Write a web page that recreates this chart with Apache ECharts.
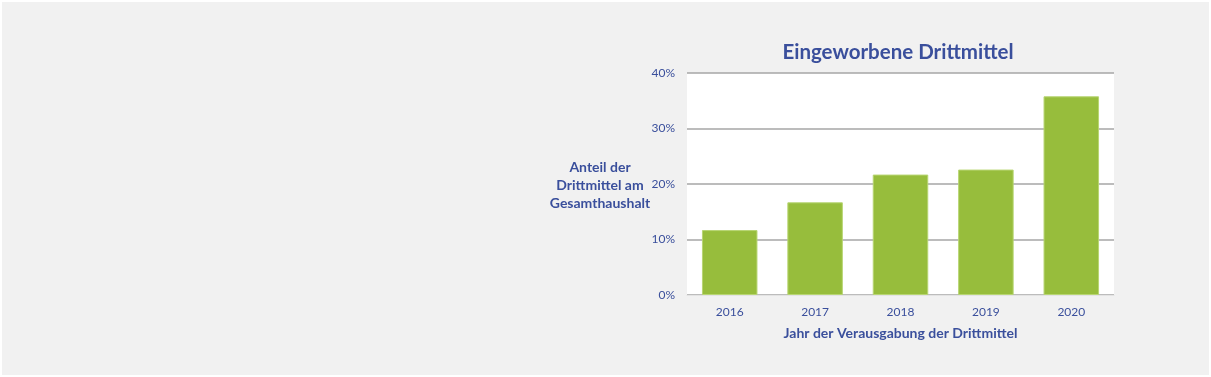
<!DOCTYPE html>
<html>
<head>
<meta charset="utf-8">
<script src="https://cdn.jsdelivr.net/npm/echarts@6/dist/echarts.min.js"></script>
<style>
  html, body { margin: 0; padding: 0; background: #fff; }
  #chart { width: 1211px; height: 377px; }
</style>
</head>
<body>
<div id="chart"></div>
<script>
// Drittmittel-Anteil pro Jahr
const years = ['2016', '2017', '2018', '2019', '2020']
const shares = [11.7, 16.7, 21.7, 22.6, 35.8]
const yTicks = [0, 10, 20, 30, 40]

const textBlue = '#3a4f9c'
const fontFam = 'Lato, "Open Sans", sans-serif'

const chart = echarts.init(document.getElementById('chart'))
chart.setOption({
  backgroundColor: '#f1f1f1',
  animation: false,
  title: {
    text: 'Eingeworbene Drittmittel',
    left: 893,
    textAlign: 'center',
    top: 37,
    textStyle: { color: textBlue, fontSize: 20.5, fontWeight: 'bold', fontFamily: fontFam }
  },
  graphic: [
    {
      type: 'rect',
      shape: { x: 0, y: 0, width: 1211, height: 377 },
      style: { fill: 'none', stroke: '#fff', lineWidth: 4 },
      silent: true
    },
    {
      type: 'text',
      x: 600,
      y: 158,
      style: {
        text: 'Anteil der\nDrittmittel am\nGesamthaushalt',
        fill: textBlue,
        font: 'bold 14px ' + fontFam,
        lineHeight: 18,
        align: 'center'
      }
    }
  ],
  grid: {
    left: 687,
    right: 97,
    top: 73,
    bottom: 82,
    show: true,
    backgroundColor: '#ffffff',
    borderWidth: 0
  },
  xAxis: {
    type: 'category',
    data: years,
    name: 'Jahr der Verausgabung der Drittmittel',
    nameLocation: 'middle',
    nameGap: 31,
    nameTextStyle: { color: textBlue, fontSize: 14, fontWeight: 'bold', fontFamily: fontFam },
    axisTick: { show: false },
    axisLine: { show: true, lineStyle: { color: '#e3e3e3', width: 1 } },
    axisLabel: { color: textBlue, fontSize: 12, margin: 11, fontFamily: fontFam }
  },
  yAxis: {
    type: 'value',
    min: yTicks[0],
    max: yTicks[yTicks.length - 1],
    interval: 10,
    axisLine: { show: false },
    axisTick: { show: false },
    axisLabel: { color: textBlue, fontSize: 12, margin: 12, fontFamily: fontFam, formatter: '{value}%' },
    splitLine: { lineStyle: { color: '#a6a6a6', width: 1.5 } }
  },
  series: [
    {
      type: 'bar',
      data: shares,
      barCategoryGap: '35%',
      itemStyle: { color: '#97bd3c', borderColor: '#b7d572', borderWidth: 1 }
    }
  ]
})
</script>
</body>
</html>
